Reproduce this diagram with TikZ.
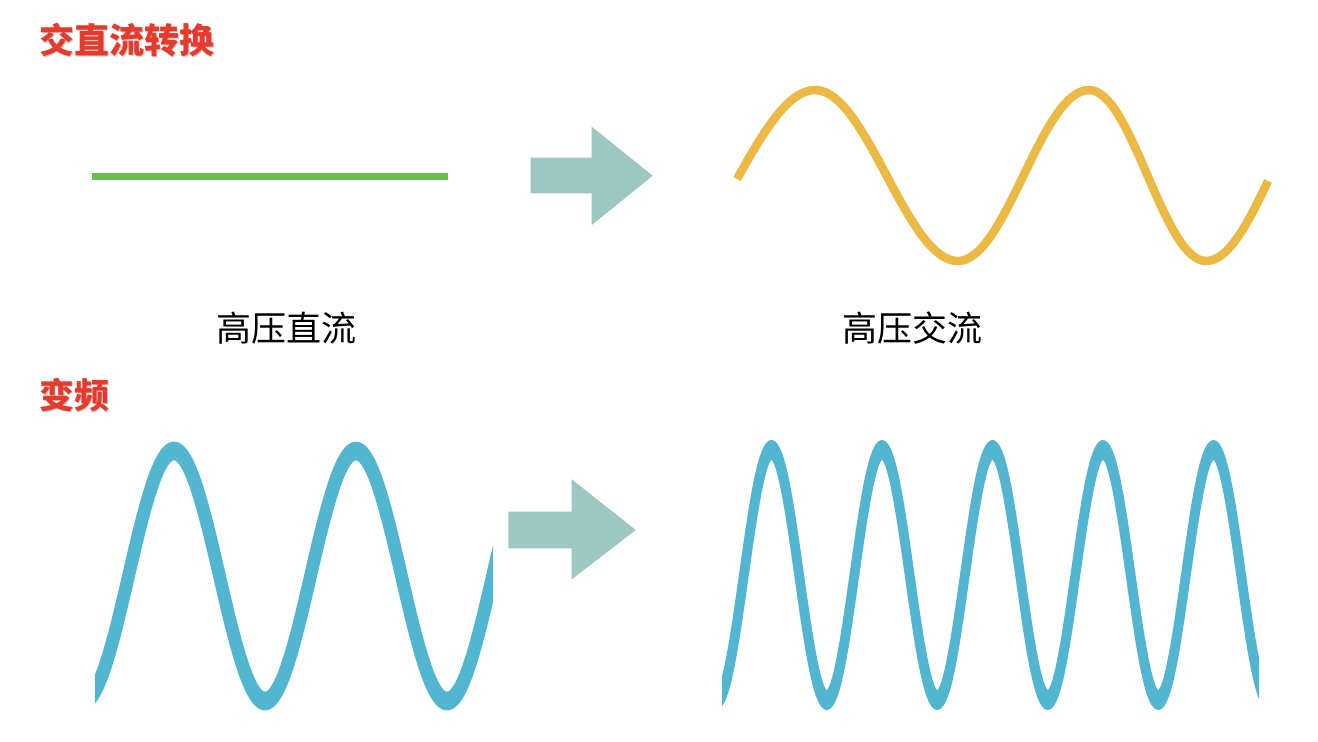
\documentclass[tikz,border=0pt]{standalone}
\usepackage{fontspec}
\newfontfamily\cjk{Noto Sans CJK SC}
\definecolor{titlered}{HTML}{E83A2C}
\definecolor{shadowgray}{HTML}{C8C8C8}
\definecolor{dcgreen}{HTML}{6BBD52}
\definecolor{acyellow}{HTML}{EBB944}
\definecolor{arrowteal}{HTML}{9DC8C1}
\definecolor{waveblue}{HTML}{52B6D1}
\tikzset{
  titletext/.style={inner sep=0pt, anchor=west, font=\cjk\bfseries\fontsize{35}{40}\selectfont, text=titlered},
  titleshadow/.style={titletext, text=shadowgray},
  labeltext/.style={inner sep=0pt, font=\cjk\fontsize{35}{40}\selectfont, text=black},
  bigarrow/.style={fill=arrowteal, draw=none},
  dcline/.style={draw=dcgreen, line width=7pt, line cap=butt},
  acwave/.style={draw=acyellow, line width=8.5pt, line cap=butt, line join=round},
  bluewave/.style={draw=waveblue, line join=round, line cap=butt}
}
\begin{document}
\begin{tikzpicture}[x=1pt,y=-1pt]
\useasboundingbox (0,0) rectangle (1318,742);
\fill[white] (0,0) rectangle (1318,742);

% titles
\node[titleshadow] (t1s) at (40.5,41.5) {交直流转换};
\node[titletext] (t1) at (39,40) {交直流转换};
\node[titleshadow] (t2s) at (40.5,396.5) {变频};
\node[titletext] (t2) at (39,395) {变频};

% labels
\node[labeltext] (l1) at (286,328) {高压直流};
\node[labeltext] (l2) at (912.5,328) {高压交流};

% DC line
\coordinate (dcA) at (92,176);
\coordinate (dcB) at (448,176);
\draw[dcline] (dcA) -- (dcB);

% arrow 1
\fill[bigarrow] (530.7,157.7) -- (591.7,157.7) -- (591.7,126.7) -- (652.7,175.7)
  -- (591.7,225) -- (591.7,193.3) -- (530.7,193.3) -- cycle;
% arrow 2
\fill[bigarrow] (508.3,511.7) -- (571.7,511.7) -- (571.7,479.3) -- (635.7,530)
  -- (571.7,579.3) -- (571.7,548.3) -- (508.3,548.3) -- cycle;

% AC wave
\coordinate (S) at (737,179);
\coordinate (P1) at (815,90);
\coordinate (T1) at (958,261);
\coordinate (P2) at (1089,90);
\coordinate (T2) at (1206,261);
\coordinate (E) at (1268,181);
\draw[acwave] (S) .. controls (763,132.5) and (788,90) .. (P1)
  .. controls (867,90) and (906,261) .. (T1)
  .. controls (1006,261) and (1041,90) .. (P2)
  .. controls (1132,90) and (1163,261) .. (T2)
  .. controls (1228,261) and (1247,225.5) .. (E);

% left blue wave
\begin{scope}
  \clip (95,400) rectangle (493,740);
  \begin{scope}[transform canvas={shift={(0,576)},yscale=1.5}]
    \draw[bluewave, line width=12.5pt] plot[domain=85:505,samples=300]
      (\x,{-125/1.5*cos((\x-174)/182*360)});
  \end{scope}
\end{scope}

% right blue wave
\begin{scope}
  \clip (722,400) rectangle (1259,740);
  \begin{scope}[transform canvas={shift={(0,575)},yscale=2.1}]
    \draw[bluewave, line width=9.5pt] plot[domain=712:1270,samples=400]
      (\x,{-125/2.1*cos((\x-771.5)/110.5*360)});
  \end{scope}
\end{scope}
\end{tikzpicture}
\end{document}
